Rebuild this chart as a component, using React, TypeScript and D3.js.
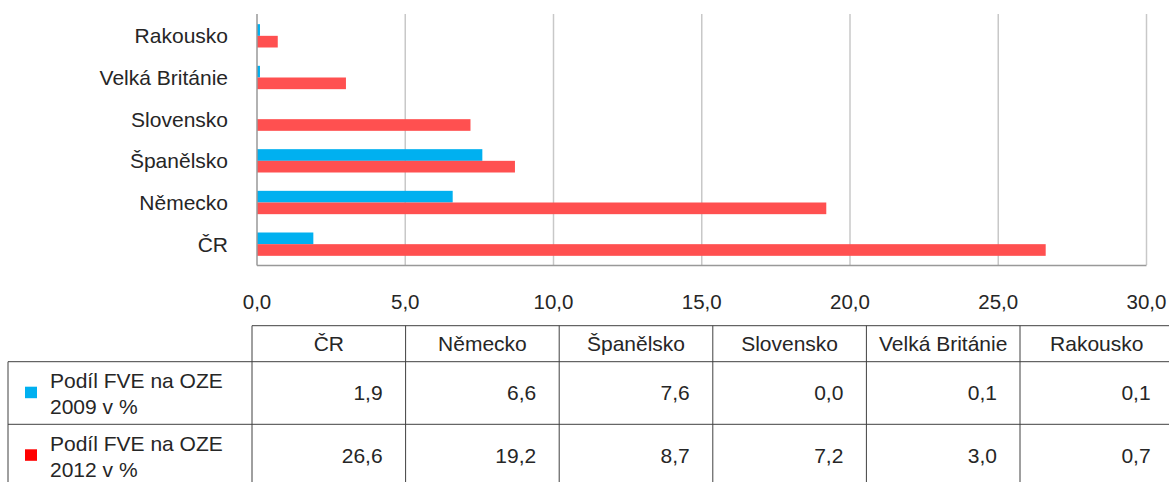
import React from "react";
import * as d3 from "d3";

const categories = ["ČR", "Německo", "Španělsko", "Slovensko", "Velká Británie", "Rakousko"];
const series2009 = [1.9, 6.6, 7.6, 0.0, 0.1, 0.1];
const series2012 = [26.6, 19.2, 8.7, 7.2, 3.0, 0.7];
const seriesNames = ["Podíl FVE na OZE 2009 v %", "Podíl FVE na OZE 2012 v %"];
const seriesNameLines = [["Podíl FVE na OZE", "2009 v %"], ["Podíl FVE na OZE", "2012 v %"]];
const xTicks = [0, 5, 10, 15, 20, 25, 30];

const W = 1169;
const H = 482;
const FONT = "'Liberation Sans', Arial, Helvetica, sans-serif";
const TEXT = "#262626";
const BAR_COLORS = ["#00b0f0", "#ff5050"];
const LEGEND_COLORS = ["#00b0f0", "#ff0000"];

export default function App() {
  const x = d3.scaleLinear().domain([0, 30]).range([257, 1146.5]);
  const y = d3
    .scaleBand<string>()
    .domain([...categories].reverse())
    .range([15, 265])
    .paddingInner(0.44)
    .paddingOuter(0.22);
  const ySub = d3.scaleBand<number>().domain([0, 1]).range([0, y.bandwidth()]);
  const fmt = (v: number) => d3.format(".1f")(v).replace(".", ",");

  const colX = d3.scaleBand<string>().domain(categories).range([252, 252 + 153.6 * 6]);
  const tableTop = 325.7;
  const headerBottom = 361.7;
  const rowH = 62.6;
  const rows = [series2009, series2012];

  return (
    <svg
      width={W}
      height={H}
      style={{ position: "absolute", left: 0, top: 0, background: "#fff" }}
      fontFamily={FONT}
    >
      <rect x={0} y={0} width={W} height={H} fill="#fff" />
      {/* grid lines */}
      {xTicks.slice(1).map((t) => (
        <line key={t} x1={x(t)} x2={x(t)} y1={14} y2={265} stroke="#c8c8c8" strokeWidth={1.5} />
      ))}
      {/* bars */}
      {categories.map((c, i) =>
        [series2009[i], series2012[i]].map((v, s) => (
          <rect
            key={c + s}
            x={x(0)}
            y={(y(c) as number) + (ySub(s) as number)}
            width={Math.max(0, x(v) - x(0))}
            height={ySub.bandwidth()}
            fill={BAR_COLORS[s]}
          />
        ))
      )}
      {/* axes */}
      <line x1={x(0)} x2={x(0)} y1={14} y2={265.5} stroke="#999" strokeWidth={1.5} />
      <line x1={x(0)} x2={x(30)} y1={265.5} y2={265.5} stroke="#999" strokeWidth={1.5} />
      {/* category labels */}
      {categories.map((c) => (
        <text
          key={c}
          x={228}
          y={(y(c) as number) + y.bandwidth() / 2}
          dy="0.35em"
          textAnchor="end"
          fontSize={21}
          fill={TEXT}
        >
          {c}
        </text>
      ))}
      {/* tick labels */}
      {xTicks.map((t) => (
        <text key={t} x={x(t)} y={309} textAnchor="middle" fontSize={20.5} fill={TEXT}>
          {fmt(t)}
        </text>
      ))}
      {/* table */}
      <g stroke="#404040" strokeWidth={1} fill="none">
        <line x1={252} x2={W} y1={tableTop} y2={tableTop} />
        <line x1={8} x2={W} y1={headerBottom} y2={headerBottom} />
        <line x1={8} x2={W} y1={headerBottom + rowH} y2={headerBottom + rowH} />
        <line x1={8} x2={8} y1={headerBottom} y2={H} />
        {categories.map((c) => (
          <line key={c} x1={colX(c)} x2={colX(c)} y1={tableTop} y2={H} />
        ))}
        <line x1={colX(categories[5])! + colX.bandwidth()} x2={colX(categories[5])! + colX.bandwidth()} y1={tableTop} y2={H} />
      </g>
      {categories.map((c) => (
        <text
          key={"h" + c}
          x={(colX(c) as number) + colX.bandwidth() / 2}
          y={351}
          textAnchor="middle"
          fontSize={21}
          fill={TEXT}
        >
          {c}
        </text>
      ))}
      {rows.map((vals, r) => (
        <g key={"r" + r}>
          <rect x={25} y={386.7 + r * rowH} width={12} height={11.5} fill={LEGEND_COLORS[r]}>
            <title>{seriesNames[r]}</title>
          </rect>
          <text x={50} y={388 + r * rowH} fontSize={21} fill={TEXT}>
            {seriesNameLines[r][0]}
          </text>
          <text x={50} y={414 + r * rowH} fontSize={21} fill={TEXT}>
            {seriesNameLines[r][1]}
          </text>
          {categories.map((c, i) => (
            <text
              key={c}
              x={(colX(c) as number) + colX.bandwidth() - 23}
              y={400 + r * rowH}
              textAnchor="end"
              fontSize={21}
              fill={TEXT}
            >
              {fmt(vals[i])}
            </text>
          ))}
        </g>
      ))}
    </svg>
  );
}
